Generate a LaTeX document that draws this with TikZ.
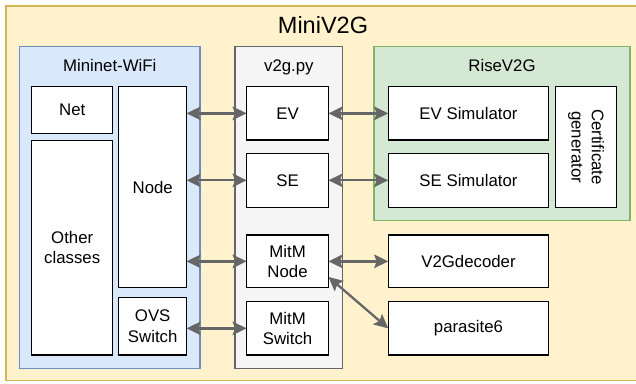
\documentclass[tikz,border=0pt]{standalone}
\usepackage{fontspec}
\setmainfont{Liberation Sans}
\usetikzlibrary{arrows.meta,calc}
\definecolor{outerfill}{HTML}{FFF2CC}
\definecolor{outerline}{HTML}{D6B656}
\definecolor{bluefill}{HTML}{DAE8FC}
\definecolor{blueline}{HTML}{6C8EBF}
\definecolor{grayfill}{HTML}{F5F5F5}
\definecolor{grayline}{HTML}{666666}
\definecolor{greenfill}{HTML}{D5E8D4}
\definecolor{greenline}{HTML}{82B366}
\definecolor{arrowgray}{HTML}{666666}
\begin{document}
\begin{tikzpicture}[x=1pt,y=-1pt,
  group/.style={rectangle, line width=1.2pt, inner sep=0pt, outer sep=0pt},
  grouplabel/.style={anchor=base, inner sep=0pt, font=\fontsize{16.8}{20.2}\selectfont},
  box/.style={rectangle, draw=black, fill=white, line width=1.2pt, inner sep=0pt, outer sep=0pt,
    align=center, font=\fontsize{16.8}{20.2}\selectfont},
  link/.style={draw=arrowgray, line width=2.3pt,
    {Stealth[length=14pt,width=13.5pt,inset=2.5pt]}-{Stealth[length=14pt,width=13.5pt,inset=2.5pt]}}
]
\useasboundingbox (0,0) rectangle (636,383);

% containers
\node[group, draw=outerline, fill=outerfill, minimum width=634pt, minimum height=374.5pt] (outer) at (323,193.25) {};
\node[anchor=base, inner sep=0pt, font=\fontsize{23.5}{28}\selectfont] (title) at (323,33.3) {MiniV2G};

\node[group, draw=blueline, fill=bluefill, minimum width=180.5pt, minimum height=321.6pt] (mininet) at (109.75,207.5) {};
\node[grouplabel] (mininetlabel) at (109.75,71.7) {Mininet-WiFi};

\node[group, draw=grayline, fill=grayfill, minimum width=107.7pt, minimum height=321.6pt] (v2g) at (288.85,207.5) {};
\node[grouplabel] (v2glabel) at (288.85,71.7) {v2g.py};

\node[group, draw=greenline, fill=greenfill, minimum width=256pt, minimum height=173.8pt] (rise) at (502,133.6) {};
\node[grouplabel] (riselabel) at (502,71.7) {RiseV2G};

% Mininet-WiFi boxes
\node[box, minimum width=81.2pt, minimum height=46.6pt] (net) at (72.2,110) {Net};
\node[box, minimum width=67.8pt, minimum height=201pt] (node) at (152.7,187.2) {Node};
\node[box, minimum width=81.2pt, minimum height=214.3pt] (other) at (72.2,247.85) {Other\\classes};
\node[box, minimum width=67.8pt, minimum height=57.7pt] (ovs) at (152.7,326.15) {OVS\\Switch};

% v2g.py boxes
\node[box, minimum width=81.9pt, minimum height=53.3pt] (ev) at (287.55,113.35) {EV};
\node[box, minimum width=81.9pt, minimum height=54pt] (se) at (287.55,180.3) {SE};
\node[box, minimum width=81.9pt, minimum height=52.7pt] (mitmnode) at (287.55,261.35) {MitM\\Node};
\node[box, minimum width=81.9pt, minimum height=53.3pt] (mitmswitch) at (287.55,328.35) {MitM\\Switch};

% RiseV2G boxes
\node[box, minimum width=160.6pt, minimum height=53.3pt] (evsim) at (468.5,113.35) {EV Simulator};
\node[box, minimum width=160.6pt, minimum height=54pt] (sesim) at (468.5,180.3) {SE Simulator};
\node[box, rotate=-90, minimum width=120.6pt, minimum height=60.8pt] (cert) at (586.1,147) {Certificate\\generator};

% other tools
\node[box, minimum width=160.6pt, minimum height=52.7pt] (decoder) at (468.5,261.35) {V2Gdecoder};
\node[box, minimum width=160.6pt, minimum height=53.3pt] (parasite) at (468.5,328.35) {parasite6};

% connectors
\draw[link] (ev.west -| node.east) -- (ev.west);
\draw[link] (se.west -| node.east) -- (se.west);
\draw[link] (mitmnode.west -| node.east) -- (mitmnode.west);
\draw[link] (mitmswitch.west -| ovs.east) -- (mitmswitch.west);
\draw[link] (ev.east) -- (evsim.west);
\draw[link] (se.east) -- (sesim.west);
\draw[link] (mitmnode.east) -- (decoder.west);
\draw[link] ([yshift=-15.6pt]mitmnode.east) -- (parasite.west);
\end{tikzpicture}
\end{document}
